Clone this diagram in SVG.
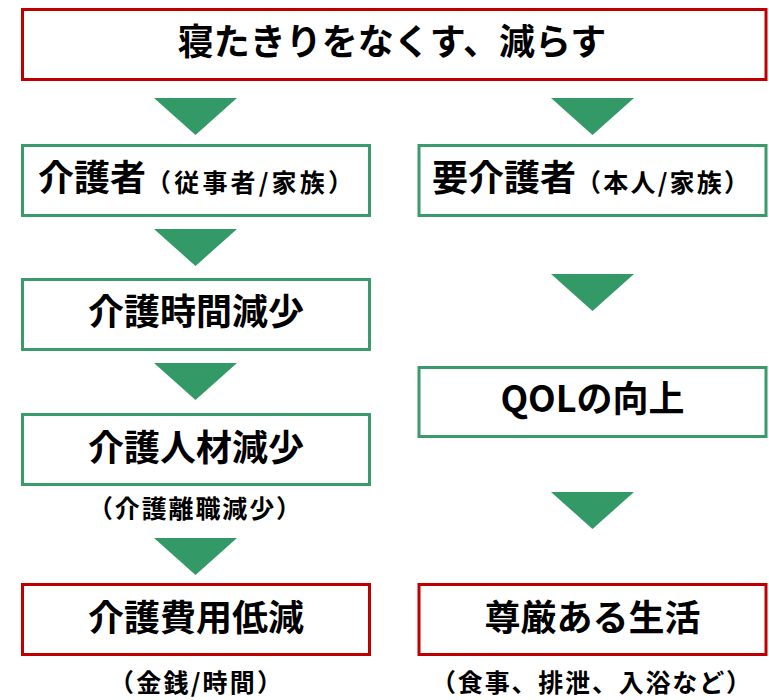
<svg xmlns="http://www.w3.org/2000/svg" width="769" height="700" viewBox="0 0 769 700">
<style>
.box{fill:#ffffff;stroke-width:3}
.g{stroke:#3a9a6a}
.r{stroke:#c00000}
.tri{fill:#339966}
.t{font-family:"Noto Sans CJK JP","Noto Sans",sans-serif;font-weight:700;fill:#000000}
.m{font-size:36px}
.s{font-size:25px}
</style>
<rect width="769" height="700" fill="#ffffff"/>
<g id="connectors">
<polygon class="tri" points="154,98 237,98 195.5,135"/>
<polygon class="tri" points="551,98 634,98 592.5,135"/>
<polygon class="tri" points="154,229 237,229 195.5,266"/>
<polygon class="tri" points="154,363 237,363 195.5,400"/>
<polygon class="tri" points="154,538 237,538 195.5,575"/>
<polygon class="tri" points="551,274 634,274 592.5,311"/>
<polygon class="tri" points="551,492 634,492 592.5,529"/>
</g>
<g id="goal">
<rect class="box r" x="22.5" y="9.5" width="743.5" height="70"/>
<text class="t m" x="392" y="55" text-anchor="middle">寝たきりをなくす、減らす</text>
</g>
<g id="caregiver">
<rect class="box g" x="22.5" y="145.5" width="347" height="70"/>
<text class="t m" x="38" y="191">介護者</text>
<text class="t s" x="146" y="192" textLength="207" lengthAdjust="spacing">（従事者/家族）</text>
</g>
<g id="care-time">
<rect class="box g" x="22.5" y="279.5" width="347" height="70"/>
<text class="t m" x="196" y="325" text-anchor="middle">介護時間減少</text>
</g>
<g id="care-staff">
<rect class="box g" x="22.5" y="414.5" width="347" height="70"/>
<text class="t m" x="196" y="461" text-anchor="middle">介護人材減少</text>
<text class="t s" x="88" y="518" textLength="213" lengthAdjust="spacing">（介護離職減少）</text>
</g>
<g id="care-cost">
<rect class="box r" x="22.5" y="584.5" width="347" height="70"/>
<text class="t m" x="196" y="631" text-anchor="middle">介護費用低減</text>
<text class="t s" x="109" y="692" textLength="173" lengthAdjust="spacing">（金銭/時間）</text>
</g>
<g id="care-receiver">
<rect class="box g" x="419" y="145.5" width="347" height="70"/>
<text class="t m" x="432" y="191">要介護者</text>
<text class="t s" x="576" y="192" textLength="173" lengthAdjust="spacing">（本人/家族）</text>
</g>
<g id="qol">
<rect class="box g" x="419" y="367.5" width="347" height="69"/>
<text class="t m" x="592.5" y="412" text-anchor="middle">QOLの向上</text>
</g>
<g id="dignity">
<rect class="box r" x="419" y="584.5" width="347" height="70"/>
<text class="t m" x="592.5" y="631" text-anchor="middle">尊厳ある生活</text>
<text class="t s" x="431" y="692" textLength="320" lengthAdjust="spacing">（食事、排泄、入浴など）</text>
</g>
</svg>
